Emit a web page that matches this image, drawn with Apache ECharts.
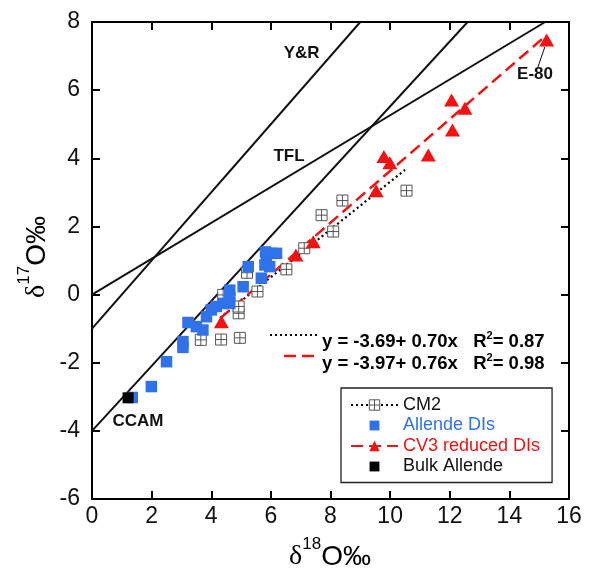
<!DOCTYPE html>
<html><head><meta charset="utf-8">
<script src="https://cdn.jsdelivr.net/npm/echarts@6/dist/echarts.min.js"></script>
<style>html,body{margin:0;padding:0;background:#fff}#c{width:590px;height:572px}</style>
</head><body><div id="c"></div>
<script>
// ---- data ----
const cm2 = [[3.65,-1.33],[4.33,-1.32],[4.96,-1.27],[4.92,-0.55],[4.92,-0.35],[4.40,-0.01],
  [5.55,0.09],[5.20,0.64],[6.52,0.74],[7.12,1.36],[8.09,1.85],[7.70,2.33],[8.40,2.76],[10.55,3.05]];
const allende = [[1.35,-3.02],[1.99,-2.70],[2.50,-1.97],[3.05,-1.38],[3.05,-1.55],[3.22,-0.82],
  [3.50,-0.94],[3.72,-1.04],[3.84,-0.65],[4.00,-0.45],[4.17,-0.35],[4.40,-0.26],[4.62,0.13],
  [4.62,-0.06],[4.62,-0.26],[5.07,0.23],[5.24,0.82],[5.68,0.48],[5.85,1.07],[6.02,1.21],
  [6.19,1.21],[5.80,0.87],[5.96,0.82],[5.82,1.25]];
const cv3 = [[4.34,-0.80],[6.84,1.16],[7.42,1.55],[9.53,3.05],[9.79,4.05],[9.99,3.87],
  [11.28,4.10],[12.09,4.83],[12.06,5.71],[12.51,5.47],[15.25,7.47]];
const bulkAllende = [[1.21,-3.03]];
const tflLine = [[0,0],[15.2,8]];
const yrLine = [[0,-1],[9,8]];
const ccamLine = [[0,-4],[12.6,8]];
const cm2Fit = [[4.3,-0.68],[10.5,3.66]];
const cv3Fit = [[4.3,-0.70],[15.2,7.58]];
const e80Leader = [[14.96,6.68],[15.19,7.27]];
const annotations = [
  {name:'Y&R', value:[7.03,7.08]},
  {name:'TFL', value:[6.61,4.05]},
  {name:'CCAM', value:[1.54,-3.73]},
  {name:'E-80', value:[14.86,6.45]}
];
const xTicks = {min:0, max:16, interval:2};
const yTicks = {min:-6, max:8, interval:2};
const cm2Eq = {eq:'y = -3.69+ 0.70x', r2:'0.87'};
const cv3Eq = {eq:'y = -3.97+ 0.76x', r2:'0.98'};

// ---- styles ----
const FONT = 'Liberation Sans';
const BLUE = '#2f72ea', RED = '#f21212', GRAY = '#555';
const cm2Sym = 'path://M0,0H10V10H0ZM5,0V10M0,5H10';
const sqIcon = 'path://M-1.6,-1.6M0,0H10V10H0ZM11.6,11.6';

const axisCommon = {
  axisLine:{show:true, onZero:false, lineStyle:{color:'#000', width:2}},
  axisTick:{show:true, inside:true, length:8, lineStyle:{color:'#000', width:2}},
  splitLine:{show:false}
};
function refLine(data){
  return {type:'line', data, symbol:'none', z:1, silent:true,
    lineStyle:{color:'#111', width:2}, legendHoverLink:false};
}
const eqRich = (color) => ({
  t:{fontSize:18.5, fontWeight:'bold', fontFamily:FONT, color, lineHeight:22},
  s:{fontSize:11, fontWeight:'bold', fontFamily:FONT, color, lineHeight:16, verticalAlign:'top'}
});
const titleRich = {
  g:{fontSize:28, fontFamily:'Liberation Serif', color:'#111', lineHeight:42},
  s:{fontSize:17, fontFamily:FONT, color:'#111', lineHeight:17, verticalAlign:'top'},
  m:{fontSize:28, fontFamily:FONT, color:'#111', lineHeight:42}
};

const option = {
  animation:false,
  backgroundColor:'#fff',
  textStyle:{fontFamily:FONT},
  grid:{left:92, top:22, right:21, bottom:73, containLabel:false},
  xAxis:[
    Object.assign({type:'value', position:'bottom', min:xTicks.min, max:xTicks.max, interval:xTicks.interval,
      axisLabel:{fontSize:23, color:'#111', margin:6, fontFamily:FONT}}, axisCommon),
    Object.assign({type:'value', position:'top', min:xTicks.min, max:xTicks.max, interval:xTicks.interval,
      axisLabel:{show:false}}, axisCommon)
  ],
  yAxis:[
    Object.assign({type:'value', position:'left', min:yTicks.min, max:yTicks.max, interval:yTicks.interval,
      axisLabel:{fontSize:23, color:'#111', margin:12, fontFamily:FONT}}, axisCommon),
    Object.assign({type:'value', position:'right', min:yTicks.min, max:yTicks.max, interval:yTicks.interval,
      axisLabel:{show:false}}, axisCommon)
  ],
  legend:{
    orient:'vertical', left:341, top:388,
    padding:[8,12,7,9],
    itemWidth:47, itemHeight:13, itemGap:2.5,
    borderColor:'#222', borderWidth:1.3, backgroundColor:'#fff',
    selectedMode:false,
    textStyle:{fontSize:18, fontFamily:FONT, color:'#111'},
    data:[
      {name:'CM2', itemStyle:{color:'#fff', borderColor:GRAY, borderWidth:1}},
      {name:'Allende DIs', icon:sqIcon, itemStyle:{color:BLUE, opacity:1}, textStyle:{color:BLUE}},
      {name:'CV3 reduced DIs', itemStyle:{color:RED, opacity:1}, textStyle:{color:RED}},
      {name:'Bulk Allende', icon:sqIcon, itemStyle:{color:'#000', opacity:1}}
    ]
  },
  series:[
    {name:'CM2', type:'line', data:cm2Fit, showSymbol:false, symbol:cm2Sym, z:2,
      itemStyle:{color:'#fff', borderColor:GRAY, borderWidth:1},
      lineStyle:{color:'#000', width:2.2, type:[2,3]}},
    {name:'CV3 reduced DIs', type:'line', data:cv3Fit, showSymbol:false, symbol:'triangle', z:2,
      itemStyle:{color:RED},
      lineStyle:{color:RED, width:2.5, type:[12,6]}},
    refLine(tflLine), refLine(yrLine), refLine(ccamLine),
    {name:'CM2', type:'scatter', data:cm2, symbol:cm2Sym, symbolSize:11, z:3,
      itemStyle:{color:'#fff', borderColor:GRAY, borderWidth:1, opacity:1}},
    {name:'Allende DIs', type:'scatter', data:allende, symbol:'rect', symbolSize:11.5, z:4,
      itemStyle:{color:BLUE, opacity:1}},
    {name:'CV3 reduced DIs', type:'scatter', data:cv3, symbol:'triangle', symbolSize:[15,13], z:5,
      itemStyle:{color:RED, opacity:1}},
    {name:'Bulk Allende', type:'scatter', data:bulkAllende, symbol:'rect', symbolSize:11, z:6,
      itemStyle:{color:'#000', opacity:1}},
    {type:'line', data:e80Leader, symbol:'none', z:6, silent:true, lineStyle:{color:'#111', width:1}},
    {type:'scatter', data:annotations, symbolSize:1, z:7, silent:true,
      itemStyle:{color:'rgba(0,0,0,0)', opacity:1},
      label:{show:true, position:'inside', formatter:'{b}', fontSize:17, fontWeight:'bold',
        color:'#111', opacity:1, fontFamily:FONT}}
  ],
  graphic:[
    {type:'line', shape:{x1:270, y1:335, x2:320, y2:335}, style:{stroke:'#000', lineWidth:2, lineDash:[2,3]}},
    {type:'text', x:322, y:341.5, style:{
      text:'{t|' + cm2Eq.eq + '   R}{s|2}{t|= ' + cm2Eq.r2 + '}', rich:eqRich('#111'),
      verticalAlign:'middle', align:'left'}},
    {type:'line', shape:{x1:284, y1:356, x2:317, y2:356}, style:{stroke:RED, lineWidth:2.5, lineDash:[12,6]}},
    {type:'text', x:322, y:363.5, style:{
      text:'{t|' + cv3Eq.eq + '   R}{s|2}{t|= ' + cv3Eq.r2 + '}', rich:eqRich(RED),
      verticalAlign:'middle', align:'left'}},
    {type:'text', x:330, y:557, style:{text:'{g|δ}{s|18}{m|O‰}', rich:titleRich,
      align:'center', verticalAlign:'middle'}},
    {type:'text', x:37, y:257, rotation:Math.PI/2, style:{text:'{g|δ}{s|17}{m|O‰}', rich:titleRich,
      align:'center', verticalAlign:'middle'}}
  ]
};
const chart = echarts.init(document.getElementById('c'), null, {renderer:'canvas'});
chart.setOption(option);
</script>
</body></html>
